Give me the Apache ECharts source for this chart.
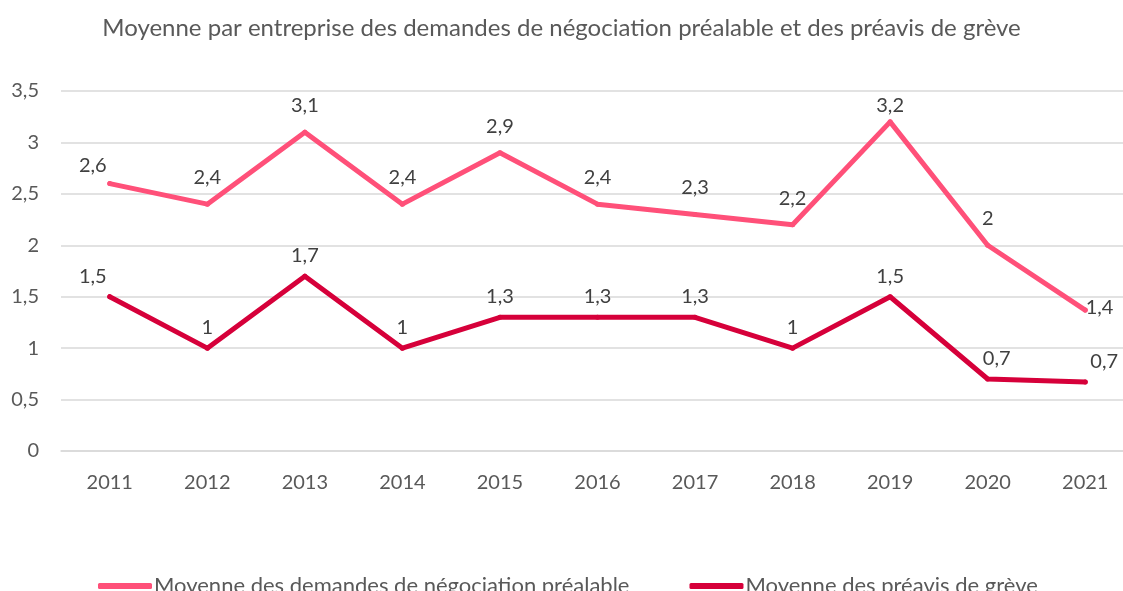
<!DOCTYPE html>
<html>
<head>
<meta charset="utf-8">
<script src="https://cdn.jsdelivr.net/npm/echarts@6/dist/echarts.min.js"></script>
<style>
html, body { margin: 0; padding: 0; background: #fff; }
#main { width: 1123px; height: 591px; }
</style>
</head>
<body>
<div id="main"></div>
<script>
// données du graphique
var annees = ['2011', '2012', '2013', '2014', '2015', '2016', '2017', '2018', '2019', '2020', '2021'];
var demandes = [2.6, 2.4, 3.1, 2.4, 2.9, 2.4, 2.3, 2.2, 3.2, 2.0, 1.37];
var preavis = [1.5, 1.0, 1.7, 1.0, 1.3, 1.3, 1.3, 1.0, 1.5, 0.7, 0.67];
var nomDemandes = 'Moyenne des demandes de négociation préalable';
var nomPreavis = 'Moyenne des préavis de grève';

var police = 'Lato, "Noto Sans", sans-serif';

// format français : virgule décimale
function fr(v) {
    return String(parseFloat(Number(v).toFixed(1))).replace('.', ',');
}

// position des étiquettes (premier et dernier point décalés comme dans Excel)
function pointsDemandes() {
    return demandes.map(function (v, i) {
        var p = { value: v };
        if (i === 0) p.label = { offset: [-17, 8] };
        if (i === demandes.length - 1) p.label = { position: 'right', distance: -2, offset: [0, -3] };
        if (i === 8) p.label = { distance: 4 };
        return p;
    });
}
function pointsPreavis() {
    return preavis.map(function (v, i) {
        var p = { value: v };
        if (i === 0) p.label = { offset: [-17, 0] };
        if (i === 9) p.label = { offset: [9, 0] };
        if (i === preavis.length - 1) p.label = { offset: [19, 0] };
        return p;
    });
}

var chart = echarts.init(document.getElementById('main'));
var option = {
    animation: false,
    textStyle: { fontFamily: police },
    title: {
        text: 'Moyenne par entreprise des demandes de négociation préalable et des préavis de grève',
        left: 'center',
        top: 11,
        textStyle: { fontFamily: police, fontSize: 24, fontWeight: 'normal', color: '#595959' }
    },
    legend: {
        left: 93,
        top: 570,
        icon: 'roundRect',
        itemWidth: 54,
        itemHeight: 6,
        itemGap: 60,
        textStyle: { fontFamily: police, fontSize: 22, color: '#595959', padding: [0, 0, 0, -3] },
        data: [nomDemandes, nomPreavis]
    },
    grid: { left: 61, width: 1073, top: 91, bottom: 140, outerBoundsMode: 'none' },
    xAxis: {
        type: 'category',
        data: annees,
        boundaryGap: true,
        axisLine: { lineStyle: { color: '#D9D9D9', width: 1.5 } },
        axisTick: { show: false },
        axisLabel: { fontFamily: police, fontSize: 20, color: '#595959', margin: 22 }
    },
    yAxis: {
        type: 'value',
        min: 0,
        max: 3.5,
        interval: 0.5,
        axisLine: { show: false },
        axisTick: { show: false },
        splitLine: { lineStyle: { color: '#D9D9D9', width: 1.5 } },
        axisLabel: {
            fontFamily: police, fontSize: 20, color: '#595959', margin: 22,
            formatter: function (v) { return fr(v); }
        }
    },
    series: [
        {
            name: nomDemandes,
            type: 'line',
            data: pointsDemandes(),
            symbol: 'circle',
            symbolSize: 5,
            itemStyle: { color: '#FF5079' },
            lineStyle: { color: '#FF5079', width: 5, cap: 'round', join: 'round' },
            label: {
                show: true, position: 'top', distance: 14,
                fontFamily: police, fontSize: 20, color: '#404040',
                formatter: function (p) { return fr(p.value); }
            }
        },
        {
            name: nomPreavis,
            type: 'line',
            data: pointsPreavis(),
            symbol: 'circle',
            symbolSize: 5,
            itemStyle: { color: '#D6003A' },
            lineStyle: { color: '#D6003A', width: 5, cap: 'round', join: 'round' },
            label: {
                show: true, position: 'top', distance: 8,
                fontFamily: police, fontSize: 20, color: '#404040',
                formatter: function (p) { return fr(p.value); }
            }
        }
    ]
};
chart.setOption(option);
</script>
</body>
</html>
